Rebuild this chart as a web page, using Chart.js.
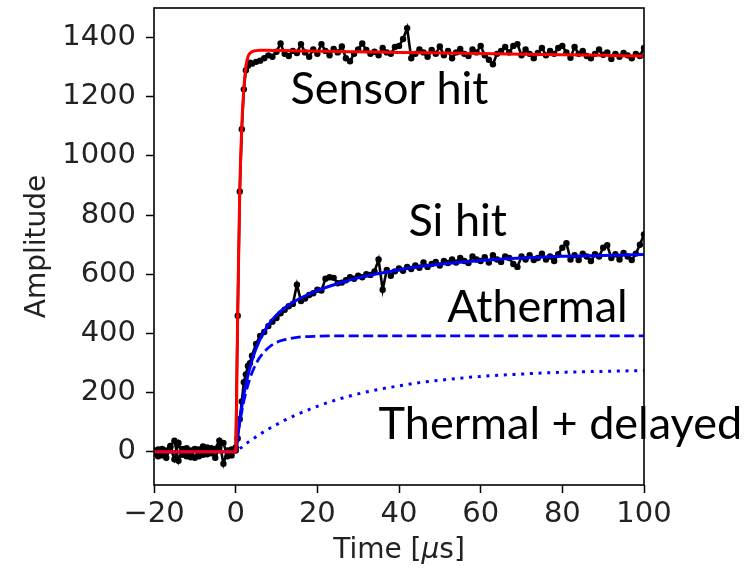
<!DOCTYPE html>
<html>
<head>
<meta charset="utf-8">
<script src="https://cdn.jsdelivr.net/npm/chart.js@4"></script>
<style>
  html, body { margin: 0; padding: 0; background: #fff; }
  #wrap { width: 749px; height: 571px; }
</style>
</head>
<body>
<div id="wrap"><canvas id="pulseChart"></canvas></div>
<script>
// measured pulses (black dots), time in microseconds
const times = [
  -20, -19, -18, -17, -16, -15, -14, -13, -12, -11, -10, -9, -8, -7, -6, -5, -4, -3, -2, -1,
  0, 0.5, 1, 1.5, 2, 2.5, 3, 3.5,
  4, 5, 6, 7, 8, 9, 10, 11, 12, 13, 14, 15, 16, 17, 18, 19, 20, 21, 22, 23,
  24, 25, 26, 27, 28, 29, 30, 31, 32, 33, 34, 35, 36, 37, 38, 39, 40, 41, 42, 43,
  44, 45, 46, 47, 48, 49, 50, 51, 52, 53, 54, 55, 56, 57, 58, 59, 60, 61, 62, 63,
  64, 65, 66, 67, 68, 69, 70, 71, 72, 73, 74, 75, 76, 77, 78, 79, 80, 81, 82, 83,
  84, 85, 86, 87, 88, 89, 90, 91, 92, 93, 94, 95, 96, 97, 98, 99, 100
];
const sensorHit = [
  -5, 8, -12, 5, 20, 38, -30, 10, -15, 5, -20, 8, -10, 15, -5, 10, 38, -40, 5, -12,
  15, 460, 880, 1090, 1225, 1290, 1305, 1315,
  1312, 1318, 1322, 1330, 1340, 1335, 1352, 1380, 1345, 1338, 1355, 1348, 1378, 1350, 1335, 1360, 1345, 1378, 1355, 1340,
  1362, 1350, 1370, 1330, 1320, 1345, 1360, 1380, 1358, 1345, 1352, 1340, 1365, 1350, 1345, 1368, 1372, 1395, 1432, 1330,
  1345, 1360, 1350, 1335, 1358, 1345, 1370, 1340, 1355, 1330, 1350, 1362, 1345, 1338, 1360, 1350, 1372, 1340, 1325, 1310,
  1345, 1355, 1368, 1350, 1372, 1378, 1340, 1360, 1345, 1330, 1348, 1365, 1340, 1355, 1345, 1365, 1372, 1350, 1332, 1368,
  1345, 1355, 1338, 1330, 1345, 1360, 1342, 1350, 1328, 1345, 1335, 1348, 1340, 1330, 1345, 1338, 1365
];
const siHit = [
  5, -15, 10, -20, 15, -25, 30, -10, 12, -18, 10, -15, 18, -8, 12, -20, 15, 30, -15, 8,
  5, 45, 110, 170, 235, 262, 290, 300,
  325, 365, 392, 405, 425, 440, 452, 468, 480, 492, 500, 565, 510, 518, 530, 536, 548, 545, 585, 590,
  588, 570, 572, 580, 590, 585, 595, 590, 600, 598, 610, 650, 548, 615, 595, 610, 620, 612, 625, 618,
  630, 622, 640, 625, 635, 642, 630, 645, 638, 650, 640, 655, 645, 638, 660, 650, 645, 658, 640, 665,
  650, 642, 660, 655, 635, 625, 660, 650, 665, 648, 655, 670, 650, 660, 645, 668, 690, 705, 650, 665,
  648, 670, 660, 645, 668, 660, 690, 698, 655, 668, 650, 672, 660, 648, 670, 700, 735
];

// fitted curves
const fitTimes = [-20, 0, 0.5, 1, 1.5, 2, 2.5, 3, 4, 5, 6, 8, 10, 12, 15, 20, 25, 30, 35, 40, 45, 50, 60, 70, 80, 90, 100];
const sensorFit = [0, 0, 470, 880, 1100, 1230, 1300, 1335, 1352, 1356, 1357, 1357, 1356, 1356, 1355, 1354, 1353, 1352, 1351, 1350, 1349, 1348, 1346, 1344, 1342, 1340, 1338];
const siFit = [0, 0, 58, 109, 152, 193, 227, 258, 309, 349, 381, 429, 462, 486, 513, 545, 569, 588, 603, 615, 626, 634, 647, 655, 661, 664, 667];
const athermalFit = [0, 0, 52, 98, 136, 171, 200, 226, 267, 298, 321, 352, 370, 379, 387, 391, 392, 392, 392, 392, 392, 392, 392, 392, 392, 392, 392];
const thermalFit = [0, 0, 6, 11, 16, 22, 27, 32, 42, 51, 60, 77, 92, 107, 126, 154, 177, 196, 211, 223, 234, 242, 255, 263, 269, 272, 275];

const xTicks = [-20, 0, 20, 40, 60, 80, 100];
const yTicks = [0, 200, 400, 600, 800, 1000, 1200, 1400];

const pts = (xs, ys) => xs.map((x, i) => ({ x: x, y: ys[i] }));
const tickFont = { family: 'DejaVu Sans', size: 29 };

const fitLine = (data, color, dash, width) => ({
  data: data,
  borderColor: color,
  borderWidth: width,
  borderDash: dash,
  pointRadius: 0,
  cubicInterpolationMode: 'monotone',
  fill: false
});
const dotLine = (data) => ({
  data: data,
  borderColor: '#000',
  backgroundColor: '#000',
  borderWidth: 2.6,
  pointRadius: 3.2,
  pointBorderWidth: 0,
  tension: 0,
  fill: false
});

// annotations, anchored in data units
const notes = [
  { text: 'Sensor hit', x: 13.4, y: 1175 },
  { text: 'Si hit', x: 42.3, y: 730 },
  { text: 'Athermal', x: 51.8, y: 439 },
  { text: 'Thermal + delayed', x: 35.0, y: 45 }
];

const decor = {
  id: 'decor',
  afterDraw(chart) {
    const ctx = chart.ctx;
    const a = chart.chartArea;
    const xs = chart.scales.x, ys = chart.scales.y;
    ctx.save();
    ctx.strokeStyle = '#000';
    ctx.lineWidth = 1.6;
    ctx.strokeRect(a.left, a.top, a.right - a.left, a.bottom - a.top);

    ctx.fillStyle = '#000';
    ctx.font = '45px Lato';
    ctx.textAlign = 'left';
    ctx.textBaseline = 'alphabetic';
    notes.forEach(n => ctx.fillText(n.text, xs.getPixelForValue(n.x), ys.getPixelForValue(n.y)));

    // x title with italic mu
    ctx.fillStyle = '#222';
    const parts = [['Time [', '28px "DejaVu Sans"'], ['\u03bc', 'italic 28px "DejaVu Sans"'], ['s]', '28px "DejaVu Sans"']];
    let total = 0;
    parts.forEach(p => { ctx.font = p[1]; total += ctx.measureText(p[0]).width; });
    let cx = (a.left + a.right) / 2 - total / 2;
    parts.forEach(p => { ctx.font = p[1]; ctx.fillText(p[0], cx, a.bottom + 73); cx += ctx.measureText(p[0]).width; });

    // y title
    ctx.translate(45, (a.top + a.bottom) / 2);
    ctx.rotate(-Math.PI / 2);
    ctx.textAlign = 'center';
    ctx.font = '28px "DejaVu Sans"';
    ctx.fillText('Amplitude', 0, 0);
    ctx.restore();
  }
};

new Chart(document.getElementById('pulseChart'), {
  type: 'line',
  data: {
    datasets: [
      fitLine(pts(fitTimes, sensorFit), '#ff0000', [], 3),
      fitLine(pts(fitTimes, siFit), '#0000ff', [], 3),
      fitLine(pts(fitTimes, athermalFit), '#0000ff', [10, 4.5], 2.8),
      fitLine(pts(fitTimes, thermalFit), '#0000ff', [3, 5.7], 3),
      dotLine(pts(times, sensorHit)),
      dotLine(pts(times, siHit))
    ]
  },
  options: {
    responsive: true,
    maintainAspectRatio: false,
    devicePixelRatio: 1,
    animation: false,
    layout: { padding: { top: 8, right: 105, left: 0, bottom: 0 } },
    plugins: { legend: { display: false }, tooltip: { enabled: false } },
    scales: {
      x: {
        type: 'linear',
        min: -20,
        max: 100,
        afterFit: s => { s.height = 86; s.paddingLeft = 0; s.paddingRight = 0; },
        afterBuildTicks: s => { s.ticks = xTicks.map(v => ({ value: v })); },
        border: { display: false },
        grid: { drawOnChartArea: false, drawTicks: true, tickLength: 8, color: '#000', tickWidth: 1.5 },
        ticks: { font: tickFont, color: '#222', padding: 4, maxRotation: 0,
                 callback: v => String(v).replace('-', '\u2212') }
      },
      y: {
        type: 'linear',
        min: -112,
        max: 1500,
        afterFit: s => { s.width = 154; s.paddingTop = 0; s.paddingBottom = 0; },
        afterBuildTicks: s => { s.ticks = yTicks.map(v => ({ value: v })); },
        border: { display: false },
        grid: { drawOnChartArea: false, drawTicks: true, tickLength: 8, color: '#000', tickWidth: 1.5 },
        ticks: { font: tickFont, color: '#222', padding: 10, callback: v => String(v) }
      }
    }
  },
  plugins: [decor]
});
</script>
</body>
</html>
